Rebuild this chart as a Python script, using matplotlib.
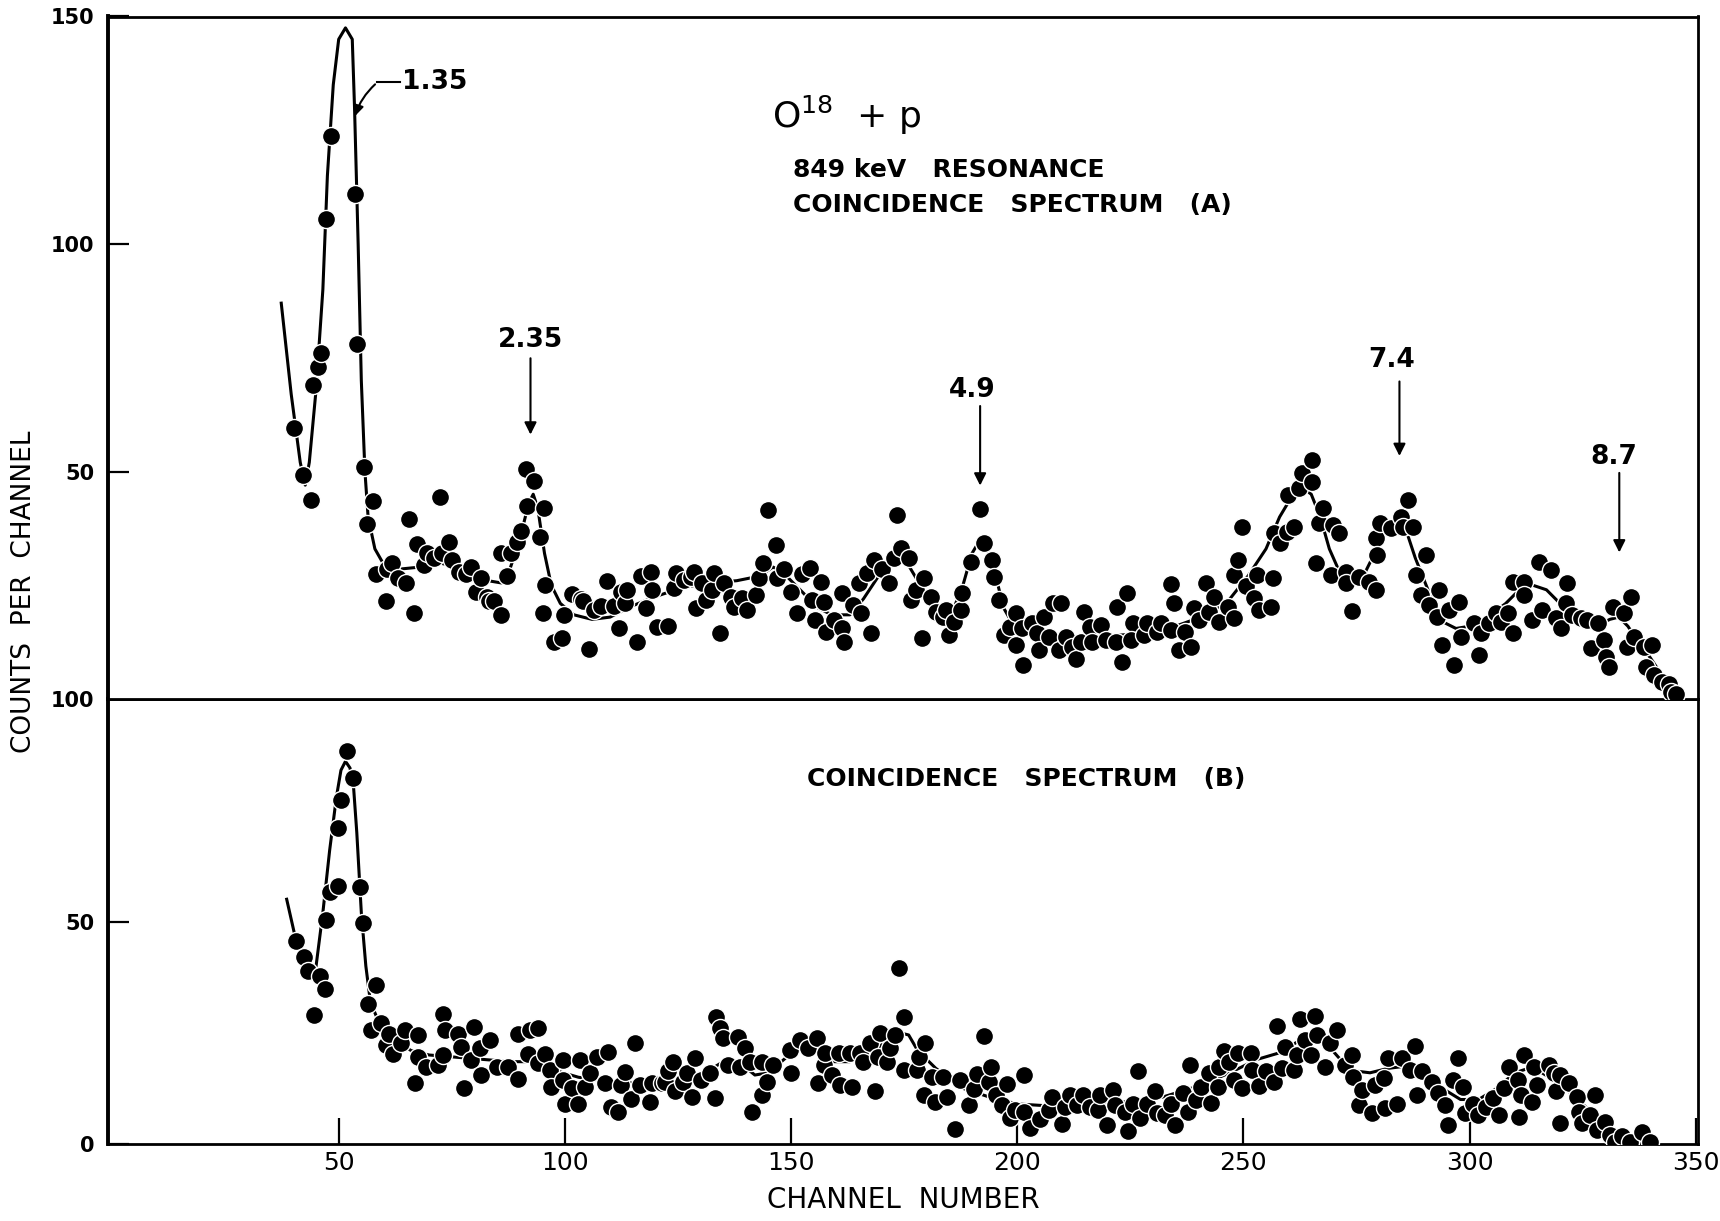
import matplotlib
matplotlib.use("Agg")
import matplotlib.pyplot as plt
import numpy as np

# ---------------- data: spectrum A (upper) ----------------
chA = [40.1, 42.0, 43.8, 44.4, 45.4, 46.0, 47.1, 48.2, 53.7, 54.0, 55.6, 56.3, 57.6, 58.2,
       60.4, 60.7, 61.8, 63.0, 64.8, 65.5, 66.6, 67.4, 68.9, 69.6, 71.1, 72.5, 72.9, 74.4,
       75.1, 76.6, 78.1, 79.2, 80.3, 81.4, 82.8, 83.2, 84.3, 85.8, 85.8, 87.3, 88.0, 89.5,
       90.2, 91.3, 91.7, 93.2, 94.5, 95.4, 95.2, 95.7, 97.6, 99.4, 99.8, 101.6, 103.5, 103.9,
       105.3, 106.4, 107.9, 109.4, 110.9, 111.9, 112.3, 113.4, 113.8, 116.0, 116.8,
       117.9, 119.0, 119.3, 120.4, 122.7, 124.1, 124.5, 126.3, 127.8, 128.5, 128.9, 130.4,
       131.1, 132.6, 133.0, 134.4, 135.2, 136.7, 137.4, 139.2, 140.3, 142.2, 142.9, 143.7,
       144.8, 146.6, 147.0, 148.5, 150.0, 151.4, 152.5, 154.3, 154.7, 155.2, 156.6, 157.3,
       157.7, 159.5, 161.3, 161.3, 161.8, 163.6, 165.0, 165.4, 166.9, 167.6, 168.3, 170.2,
       171.7, 172.8, 173.5, 174.2, 176.1, 176.5, 177.6, 179.0, 179.4, 180.9, 182.0, 183.5,
       184.2, 185.0, 186.0, 187.5, 187.9, 189.7, 191.8, 192.7, 194.5, 194.9, 196.0, 197.1,
       198.5, 199.7, 199.7, 201.2,
       201.1, 203.3, 204.4, 204.8, 205.9, 207.0, 207.8, 209.6, 209.3, 210.7, 212.2, 212.9,
       214.0, 214.8, 216.2, 216.6, 218.5, 219.6, 221.8, 222.1, 223.2, 224.3, 225.5, 225.1,
       228.0, 228.8, 231.0, 231.7, 233.9, 233.9, 234.7, 235.8, 237.2, 238.4, 239.1, 240.2,
       241.7, 242.4, 243.5, 244.6, 246.5, 247.9, 247.9, 248.8, 249.6, 250.5, 252.4, 253.0,
       253.5, 256.0, 256.6, 256.8, 258.2, 259.7, 259.9, 261.2, 262.3, 263.0, 265.2, 265.2,
       266.0, 266.7, 267.5, 269.3, 269.7, 271.1, 272.6, 272.6, 274.1, 275.6, 277.8, 279.3,
       279.3, 279.6, 280.2,
       282.6, 284.8, 285.2, 286.3, 287.4, 288.1, 289.2, 290.3, 291.0, 292.9, 293.3, 294.0,
       295.5, 296.6, 297.7, 298.0, 301.0, 302.1, 302.5, 304.3, 305.8, 306.9, 308.4, 309.5,
       309.5, 312.0, 312.0, 313.9, 315.4, 316.1, 318.0, 319.0, 320.2, 321.3, 321.6, 322.7,
       324.6, 326.0, 326.8, 328.3, 329.7, 330.1, 330.8, 331.6, 334.2, 334.9, 335.6, 336.4,
       338.6, 339.0, 340.4, 340.8, 342.6, 344.1, 344.5, 345.6]
cntA = [59.5, 49.3, 43.7, 69.0, 73.0, 76.0, 105.5, 123.7, 111.0, 78.0, 51.0, 38.5, 43.5, 27.5,
        21.5, 28.5, 30.0, 26.5, 25.5, 39.5, 19.0, 34.0, 29.5, 32.0, 31.0, 44.5, 32.0, 34.5,
        30.5, 28.0, 27.5, 29.0, 23.5, 26.5, 22.5, 21.5, 21.5, 18.5, 32.0, 27.0, 32.0, 34.5,
        37.0, 50.5, 42.5, 48.0, 35.5, 42.0, 19.0, 25.0, 12.5, 13.5, 18.5, 23.0, 22.0, 21.5,
        11.0, 19.5, 20.5, 26.0, 20.5, 15.5, 23.5, 21.0, 24.0, 12.5, 27.0,
        19.9, 28.0, 23.9, 15.9, 16.1, 24.3, 27.7, 26.1, 26.8, 28.0, 19.9, 25.4,
        21.7, 23.9, 27.6, 14.4, 25.4, 22.5, 20.3, 22.1, 19.5, 22.8, 26.5, 29.8,
        41.5, 33.8, 26.5, 28.5, 23.5, 18.8, 27.4, 28.9, 21.7, 17.3, 25.7, 21.4,
        14.8, 17.3, 23.2, 15.5, 12.6, 20.6, 25.4, 18.8, 27.6, 14.4, 30.5, 28.5,
        25.5, 30.9, 40.4, 33.1, 30.9, 21.7, 23.9, 13.3, 26.5, 22.5, 19.2, 18.1,
        19.5, 14.0, 17.0, 19.5, 23.2, 30.2, 41.7, 34.2, 30.5, 26.9, 21.7, 14.0,
        15.9, 18.8, 11.8, 7.4,
        15.5, 16.6, 14.4, 10.7, 18.1, 13.7, 21.0, 21.1, 10.7, 13.7, 11.5, 8.9,
        12.6, 19.2, 15.9, 12.6, 16.2, 12.9, 12.6, 20.3, 8.2, 23.2, 16.6, 12.9,
        14.0, 16.6, 14.8, 16.6, 15.1, 25.3, 21.0, 10.7, 14.8, 11.5, 19.9, 17.3,
        25.4, 19.2, 22.5, 16.9, 20.3, 17.7, 27.2, 30.5, 37.8, 24.8, 22.1, 27.2,
        19.5, 20.3, 26.5, 36.4, 34.2, 36.7, 44.8, 37.8, 46.3, 49.6, 52.6, 47.7,
        29.8, 38.6, 41.9, 27.2, 38.2, 36.4, 28.0, 25.4, 19.4, 26.9, 25.8, 23.9,
        35.3, 31.6, 38.6,
        37.5, 40.0, 37.8, 43.7, 37.8, 27.2, 22.8, 31.6, 20.6, 18.1, 23.9, 11.8,
        19.5, 7.4, 21.4, 13.7, 16.6, 9.6, 14.4, 16.6, 18.8, 17.0, 18.8, 14.4,
        25.7, 25.7, 22.8, 17.3, 30.1, 19.5, 28.3, 17.7, 15.5, 21.0, 25.4, 18.4,
        17.7, 17.3, 11.1, 16.6, 12.9, 9.3, 7.1, 20.3, 18.8, 11.5, 22.5, 13.7,
        11.5, 7.1, 11.8, 5.2, 3.8, 3.4, 1.6, 1.2]

# hand-drawn guide curve through spectrum A
curveA_ch = [37.3, 39.5, 41.5, 42.6, 43.5, 45, 46.5, 47.5, 48.8, 50, 51.5, 53, 53.5, 54.3, 55,
             55.8, 56.5, 58, 60, 63, 68, 72, 78, 83, 86, 88, 90, 92, 93, 94, 95.5, 97, 99, 102,
             106, 110, 115, 120, 126, 132, 138, 143, 146, 148, 152, 156, 159, 163, 166, 170,
             173, 175, 178, 181, 184, 186, 188, 190, 191.8, 193, 195, 197, 199, 202, 206, 212,
             220, 228, 235, 242, 247, 251, 255, 258, 261, 263, 265, 267, 269, 271, 274, 277,
             279, 281, 283.5, 286, 288, 290, 292, 294, 297, 300, 304, 308, 311, 314, 317, 320,
             324, 328, 331, 333, 335, 337, 340, 343, 346]
curveA_val = [87, 67, 52, 47, 52, 68, 90, 115, 135, 145, 147.5, 145, 130, 100, 70,
              50, 40, 33, 29.5, 28.5, 29, 30, 28.5, 26, 25.5, 29, 35, 43, 45, 42, 32, 25, 21, 18.5,
              17.5, 18, 20.5, 22.5, 24.5, 25.5, 26, 27, 29, 28, 24, 20, 18.5, 18.5, 22, 28,
              31, 31, 26, 21, 19, 20, 25, 32, 35, 34, 28, 20, 16.5, 14.5, 13.8, 13.5,
              13.8, 14.5, 16, 18.5, 22, 27, 33, 40, 45, 46.5, 45, 40, 33, 28.5, 27, 28,
              32, 36, 38, 37, 31, 26, 21, 17, 15.5, 16, 18, 21, 24, 25, 24, 21,
              17.5, 16, 17.5, 18, 16, 13, 9, 4.5, 0]

# ---------------- data: spectrum B (lower) ----------------
chB = [40.6, 42.4, 43.2, 44.6, 45.9, 46.9, 47.2, 48.0, 49.8, 49.8, 50.4, 51.9, 53.1, 54.6,
       55.3, 56.4, 57.2, 58.3, 59.4, 60.5, 61.2, 62.0, 63.8, 64.6, 66.8, 67.5, 67.5, 69.4,
       72.0, 73.1, 73.4, 73.1, 76.4, 77.1, 77.8, 79.3, 80.0, 81.2, 81.5, 83.4, 84.9, 87.4,
       89.7, 89.7, 91.9, 92.2, 94.1, 94.1, 95.6, 96.7, 97.0, 99.6, 99.6, 100.0, 101.5, 103.0,
       103.3, 104.4, 105.5, 107.0, 108.8, 109.6, 110.3, 111.8, 112.5, 113.3, 114.7, 115.5,
       116.6, 118.8, 119.2, 121.4,
       122.1, 122.8, 123.9, 124.3, 126.2, 126.9, 128.0, 128.7, 130.2, 132.1, 133.2, 133.5,
       134.4, 135.0, 136.1, 138.3, 138.7, 139.8, 140.9, 141.3, 143.5, 143.5, 144.6, 146.1,
       149.8, 150.1, 152.0, 153.8, 155.7, 156.0, 157.2, 157.5, 159.0, 160.5, 160.8, 163.1,
       163.4, 165.3, 166.0, 167.5, 168.6, 169.3, 169.7, 171.2, 171.9, 173.0, 173.8, 175.0,
       174.9, 177.8, 178.2, 179.7, 179.3, 181.1, 181.9, 183.7, 184.5, 186.3, 187.4, 189.3,
       190.4, 191.1, 192.6, 193.7, 194.1, 195.2, 196.6, 197.7, 198.5, 199.6, 201.4,
       201.5, 202.9, 205.1, 207.0, 207.7, 209.9, 210.6, 211.7, 213.2, 214.6, 216.1, 217.9,
       218.3, 219.8, 221.2, 221.6, 223.8, 224.5, 225.6, 226.7, 227.1, 228.6, 230.4, 230.8,
       232.6, 234.1, 234.8, 236.6, 237.7, 238.1, 239.6, 240.7, 242.5, 242.9, 244.3, 244.7,
       245.8, 246.9, 248.0, 248.7, 249.8, 251.6, 252.0, 253.5, 254.9, 256.8, 257.5, 258.6,
       259.3, 261.2, 261.9, 262.6, 263.7, 265.0, 265.9, 266.3, 268.1, 269.2, 270.7, 272.5,
       274.0, 274.3, 275.5, 276.2, 278.4, 279.1,
       281.0, 281.3, 282.0, 283.9, 285.0, 286.8, 287.9, 288.3, 289.4, 291.6, 293.0, 294.5,
       295.2, 296.3, 297.4, 298.5, 298.9, 300.7, 301.8, 303.7, 305.1, 306.6, 307.7, 308.8,
       310.6, 311.0, 311.3, 312.1, 313.9, 314.3, 315.0, 317.6, 318.7, 319.0, 320.1, 320.1,
       322.0, 323.8, 324.2, 324.9, 326.7, 327.8, 328.2, 330.0, 331.1, 332.2, 333.7, 335.5,
       338.1, 339.9]
cntB = [45.6, 42.0, 38.9, 29.0, 37.7, 34.9, 50.4, 56.6, 57.9, 71.0, 77.2, 88.4, 82.2, 57.7,
        49.7, 31.4, 25.7, 35.7, 27.1, 22.2, 24.8, 20.3, 22.6, 25.6, 13.6, 24.5, 19.6, 17.4,
        17.7, 29.3, 25.6, 20.0, 24.8, 21.8, 12.5, 18.8, 26.3, 21.5, 15.5, 23.3, 17.4, 17.4,
        24.8, 14.7, 20.3, 25.6, 26.0, 18.1, 20.3, 16.6, 12.9, 18.8, 14.4, 9.1, 12.5, 9.1,
        18.8, 12.9, 15.9, 19.6, 13.6, 20.7, 8.4, 7.3, 13.2, 16.2, 10.2, 22.6,
        13.2, 9.5, 13.6, 13.6,
        14.0, 16.3, 18.5, 12.0, 14.0, 15.9, 10.6, 19.3, 14.4, 15.9, 10.3, 28.5,
        26.0, 23.8, 17.8, 24.0, 17.4, 21.5, 18.5, 7.1, 11.0, 18.5, 14.0, 17.8,
        21.1, 16.0, 23.4, 21.5, 23.8, 13.6, 17.8, 20.4, 15.5, 20.4, 13.3, 20.5,
        12.7, 20.4, 18.5, 22.6, 11.8, 19.6, 24.9, 18.5, 21.5, 24.5, 39.5, 28.6,
        16.6, 16.6, 19.6, 22.6, 11.0, 15.1, 9.5, 15.1, 10.6, 3.3, 14.4, 8.8,
        12.3, 15.7, 24.3, 14.0, 17.4, 11.0, 8.8, 13.5, 5.8, 7.7, 15.5,
        7.3, 3.5, 5.6, 7.7, 10.6, 4.5, 8.4, 11.0, 8.8, 11.0, 8.4, 7.7,
        11.0, 4.3, 12.1, 8.8, 7.1, 3.0, 9.1, 16.3, 5.8, 9.1, 11.8, 6.9,
        6.5, 9.1, 4.3, 11.4, 7.3, 17.8, 9.9, 12.9, 15.9, 9.3, 12.7, 17.4,
        20.8, 18.5, 14.4, 20.4, 12.5, 20.4, 16.6, 13.0, 16.3, 14.0, 26.5, 17.0,
        21.9, 16.6, 20.0, 28.0, 23.4, 20.0, 28.8, 24.5, 17.4, 22.6, 25.6, 17.8,
        20.0, 15.1, 8.8, 12.1, 6.9, 13.3,
        14.8, 8.0, 19.3, 9.1, 19.3, 16.6, 22.0, 11.0, 16.3, 14.0, 11.4, 8.8,
        4.3, 14.4, 19.3, 12.9, 6.9, 9.1, 6.5, 8.4, 10.3, 6.5, 12.5, 17.4,
        14.4, 6.0, 11.0, 20.0, 9.5, 17.4, 13.3, 17.8, 15.9, 11.8, 4.7, 15.5,
        13.6, 10.6, 7.3, 4.7, 6.5, 11.0, 3.2, 5.0, 2.0, 0.5, 1.7, 0.5,
        2.6, 0.5]

curveB_ch = [38.5, 40.5, 42.5, 43.7, 45, 46.5, 48, 49.5, 50.5, 51.5, 52.5, 53.3, 54, 55, 56, 57,
             59, 62, 66, 70, 76, 82, 88, 93, 98, 103, 110, 118, 125, 131, 135, 139, 142, 145,
             149, 153, 156, 159, 163, 167, 171, 174, 176, 178, 182, 188, 194, 200, 208, 216,
             224, 232, 240, 247, 253, 258, 262, 265, 268, 271, 274, 278, 282, 286, 290, 294,
             298, 302, 306, 310, 313, 316, 320, 324, 328, 332, 336, 340]
curveB_val = [55, 46, 40, 37, 40, 52, 66, 78, 84, 86, 84.5, 80, 70, 52, 40, 32,
              27, 23.5, 21, 20, 19.5, 19, 18.5, 18.5, 16.5, 15, 14, 13.5, 14, 16, 18.5, 18, 15.5, 16,
              19.5, 22, 21, 18.5, 18.5, 20, 23, 25, 24.5, 21, 17, 12.5, 10.5, 9, 8.5, 9,
              9.5, 10.5, 13, 16, 19, 20.5, 23, 24.5, 23, 19.5, 16.5, 16, 17, 17.5, 16, 12.5,
              10, 10, 12.5, 16, 17, 16, 13.5, 10, 6, 2.5, 1, 0.3]

# peak labels (MeV) and arrow positions for spectrum A
peak_labels = ["2.35", "4.9", "7.4", "8.7"]
peak_label_ch = [92.4, 190.1, 282.8, 331.8]
peak_label_val = [79.0, 67.9, 74.5, 53.2]
peak_arrow_ch = [92.4, 191.8, 284.5, 333.1]
peak_arrow_top = [75.5, 65.0, 70.4, 50.3]
peak_arrow_tip = [57.5, 46.3, 52.8, 31.6]

xticks = [50, 100, 150, 200, 250, 300, 350]
ytick_A = [50, 100, 150]
ytick_B = [0, 50, 100]

# ---------------- figure ----------------
W, H = 1720, 1221
fig = plt.figure(figsize=(W / 100, H / 100), dpi=100)
L, R = 108 / W, 1698 / W
axB = fig.add_axes([L, 1 - 1144 / H, R - L, (1144 - 699) / H])
axA = fig.add_axes([L, 1 - 699 / H, R - L, (699 - 16.5) / H], sharex=axB)

for ax in (axA, axB):
    for s in ax.spines.values():
        s.set_linewidth(2.0)
    ax.spines['left'].set_linewidth(2.8)
    ax.tick_params(direction='in', length=15, width=1.6, labelsize=15, pad=10)

axA.plot(curveA_ch, curveA_val, color='black', lw=2.2, zorder=2)
axA.plot(chA, cntA, 'o', ms=13, color='black', mec='white', mew=1.0, zorder=3)
axB.plot(curveB_ch, curveB_val, color='black', lw=2.2, zorder=2)
axB.plot(chB, cntB, 'o', ms=13, color='black', mec='white', mew=1.0, zorder=3)

axB.set_xlim(-1, 350.5)
axA.set_ylim(0, 150)
axB.set_ylim(0, 100)
axA.set_yticks(ytick_A)
axA.set_yticklabels([str(v) for v in ytick_A], fontweight='bold')
axB.set_yticks(ytick_B)
axB.set_yticklabels([str(v) for v in ytick_B], fontweight='bold')
axB.set_xticks(xticks)
axB.set_xticklabels([str(v) for v in xticks], fontsize=18)
axB.tick_params(axis='x', length=19, pad=5)
axA.tick_params(axis='x', bottom=False, labelbottom=False)

axB.set_xlabel("CHANNEL  NUMBER", fontsize=20, labelpad=8)
fig.text(24 / W, 1 - 592 / H, "COUNTS  PER  CHANNEL", rotation=90, ha='center', va='center',
         fontsize=19)

# titles
axA.text(145.7, 128.3, r"O$^{\mathregular{18}}$  + p", fontsize=26, ha='left', va='center')
axA.text(150.4, 116.2, "849 keV   RESONANCE", fontsize=18, fontweight='bold',
         ha='left', va='center')
axA.text(150.4, 108.5, "COINCIDENCE   SPECTRUM   (A)", fontsize=18, fontweight='bold',
         ha='left', va='center')
axB.text(153.5, 82.0, "COINCIDENCE   SPECTRUM   (B)", fontsize=18, fontweight='bold',
         ha='left', va='center')

# 1.35 label with leader
axA.text(64.1, 135.5, "1.35", fontsize=19, fontweight='bold', ha='left', va='center')
axA.plot([63.5, 58.5], [135.5, 135.5], color='black', lw=1.5)
axA.annotate("", xy=(53.4, 127.5), xytext=(58.5, 135.5),
             arrowprops=dict(arrowstyle='-|>', color='black', lw=1.5, mutation_scale=16,
                             connectionstyle='arc3,rad=0.15'))

for lab, lx, ly, axx, t0, t1 in zip(peak_labels, peak_label_ch, peak_label_val,
                                     peak_arrow_ch, peak_arrow_top, peak_arrow_tip):
    axA.text(lx, ly, lab, fontsize=19, fontweight='bold', ha='center', va='center')
    axA.annotate("", xy=(axx, t1), xytext=(axx, t0),
                 arrowprops=dict(arrowstyle='-|>', color='black', lw=1.5, mutation_scale=18))

fig.savefig("out.png", dpi=100)
